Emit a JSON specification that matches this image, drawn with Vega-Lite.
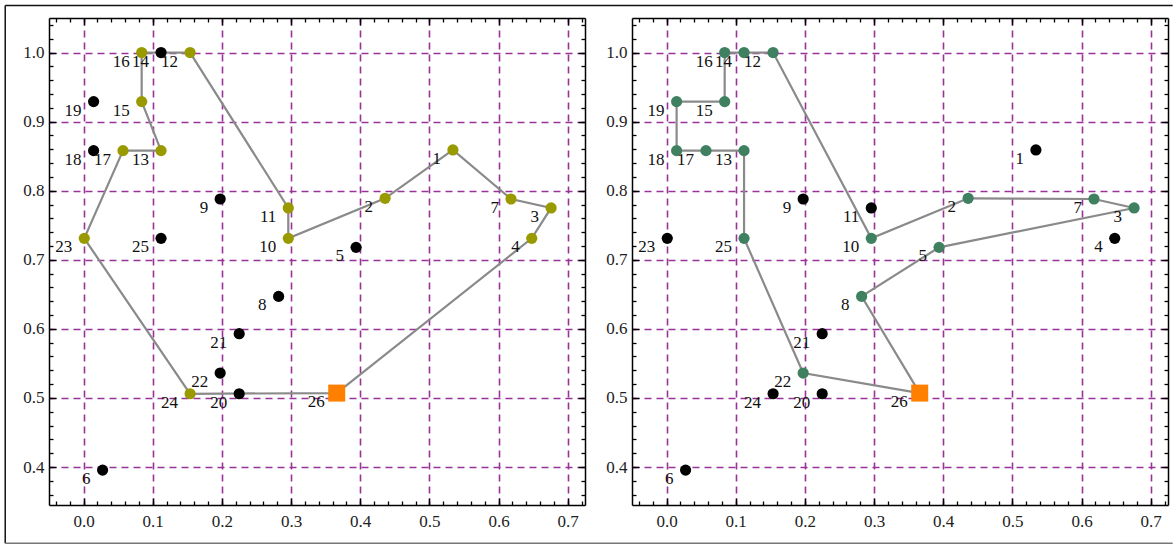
{
  "$schema": "https://vega.github.io/schema/vega-lite/v6.json",
  "background": "white",
  "padding": {"left": 4, "top": 4, "right": 0, "bottom": 0},
  "bounds": "flush",
  "spacing": 47,
  "config": {
    "view": {"stroke": null},
    "axis": {
      "domainColor": "#000000",
      "domainWidth": 1.5,
      "tickColor": "#000000",
      "tickWidth": 1.3,
      "labelFont": "Liberation Serif",
      "labelFontSize": 17,
      "labelColor": "#222222",
      "labelFlush": false,
      "labelOverlap": false
    }
  },
  "datasets": {
    "pts": [
      {"id": 1, "x": 0.534, "y": 0.859, "catL": "routeA", "catR": "node"},
      {"id": 2, "x": 0.436, "y": 0.789, "catL": "routeA", "catR": "routeB"},
      {"id": 3, "x": 0.676, "y": 0.775, "catL": "routeA", "catR": "routeB"},
      {"id": 4, "x": 0.648, "y": 0.731, "catL": "routeA", "catR": "node"},
      {"id": 5, "x": 0.394, "y": 0.718, "catL": "node", "catR": "routeB"},
      {"id": 6, "x": 0.0275, "y": 0.3955, "catL": "node", "catR": "node"},
      {"id": 7, "x": 0.618, "y": 0.788, "catL": "routeA", "catR": "routeB"},
      {"id": 8, "x": 0.282, "y": 0.647, "catL": "node", "catR": "routeB"},
      {"id": 9, "x": 0.1975, "y": 0.788, "catL": "node", "catR": "node"},
      {"id": 10, "x": 0.296, "y": 0.731, "catL": "routeA", "catR": "routeB"},
      {"id": 11, "x": 0.296, "y": 0.775, "catL": "routeA", "catR": "node"},
      {"id": 12, "x": 0.154, "y": 1.0, "catL": "routeA", "catR": "routeB"},
      {"id": 13, "x": 0.112, "y": 0.858, "catL": "routeA", "catR": "routeB"},
      {"id": 14, "x": 0.112, "y": 1.0, "catL": "node", "catR": "routeB"},
      {"id": 15, "x": 0.084, "y": 0.929, "catL": "routeA", "catR": "routeB"},
      {"id": 16, "x": 0.084, "y": 1.0, "catL": "routeA", "catR": "routeB"},
      {"id": 17, "x": 0.057, "y": 0.858, "catL": "routeA", "catR": "routeB"},
      {"id": 18, "x": 0.0145, "y": 0.858, "catL": "node", "catR": "routeB"},
      {"id": 19, "x": 0.0145, "y": 0.929, "catL": "node", "catR": "routeB"},
      {"id": 20, "x": 0.225, "y": 0.506, "catL": "node", "catR": "node"},
      {"id": 21, "x": 0.225, "y": 0.593, "catL": "node", "catR": "node"},
      {"id": 22, "x": 0.1975, "y": 0.536, "catL": "node", "catR": "routeB"},
      {"id": 23, "x": 0.001, "y": 0.731, "catL": "routeA", "catR": "node"},
      {"id": 24, "x": 0.154, "y": 0.506, "catL": "routeA", "catR": "node"},
      {"id": 25, "x": 0.112, "y": 0.731, "catL": "node", "catR": "routeB"},
      {"id": 26, "x": 0.366, "y": 0.507, "catL": "depot", "catR": "depot"}
    ],
    "pathL": [
      {"s": 1, "id": 26}, {"s": 2, "id": 4}, {"s": 3, "id": 3}, {"s": 4, "id": 7},
      {"s": 5, "id": 1}, {"s": 6, "id": 2}, {"s": 7, "id": 10}, {"s": 8, "id": 11},
      {"s": 9, "id": 12}, {"s": 10, "id": 16}, {"s": 11, "id": 15}, {"s": 12, "id": 13},
      {"s": 13, "id": 17}, {"s": 14, "id": 23}, {"s": 15, "id": 24}, {"s": 16, "id": 26}
    ],
    "pathR": [
      {"s": 1, "id": 26}, {"s": 2, "id": 22}, {"s": 3, "id": 25}, {"s": 4, "id": 13},
      {"s": 5, "id": 17}, {"s": 6, "id": 18}, {"s": 7, "id": 19}, {"s": 8, "id": 15},
      {"s": 9, "id": 16}, {"s": 10, "id": 14}, {"s": 11, "id": 12}, {"s": 12, "id": 10},
      {"s": 13, "id": 2}, {"s": 14, "id": 7}, {"s": 15, "id": 3}, {"s": 16, "id": 5},
      {"s": 17, "id": 8}, {"s": 18, "id": 26}
    ]
  },
  "hconcat": [
    {
      "width": 536,
      "height": 487,
      "resolve": {"axis": {"x": "independent", "y": "independent"}},
      "layer": [
        {
          "data": {"values": [{}]},
          "mark": {"type": "rule", "color": "#111111", "strokeWidth": 1.5, "strokeCap": "butt"},
          "encoding": {
            "x": {"datum": -0.1133, "type": "quantitative", "scale": {"domain": [-0.05, 0.725], "nice": false, "zero": false}, "axis": null},
            "x2": {"datum": 1.5747},
            "y": {"datum": 1.0682, "type": "quantitative", "scale": {"domain": [0.345, 1.05], "nice": false, "zero": false}, "axis": null}
          }
        },
        {
          "data": {"values": [{}]},
          "mark": {"type": "rule", "color": "#111111", "strokeWidth": 1.5, "strokeCap": "butt"},
          "encoding": {
            "x": {"datum": -0.1133, "type": "quantitative", "scale": {"domain": [-0.05, 0.725], "nice": false, "zero": false}, "axis": null},
            "y": {"datum": 0.2895, "type": "quantitative", "scale": {"domain": [0.345, 1.05], "nice": false, "zero": false}, "axis": null},
            "y2": {"datum": 1.0682}
          }
        },
        {
          "data": {"values": [{}]},
          "mark": {"type": "rule", "color": "#777777", "strokeWidth": 1.5, "strokeCap": "butt"},
          "encoding": {
            "x": {"datum": -0.1133, "type": "quantitative", "scale": {"domain": [-0.05, 0.725], "nice": false, "zero": false}, "axis": null},
            "x2": {"datum": 1.5747},
            "y": {"datum": 0.2895, "type": "quantitative", "scale": {"domain": [0.345, 1.05], "nice": false, "zero": false}, "axis": null}
          }
        },
        {
          "data": {"name": "pathL"},
          "transform": [{"lookup": "id", "from": {"data": {"name": "pts"}, "key": "id", "fields": ["x", "y"]}}],
          "mark": {"type": "line", "color": "#8a8a8a", "strokeWidth": 2.2},
          "encoding": {
            "x": {"field": "x", "type": "quantitative", "scale": {"domain": [-0.05, 0.725], "nice": false, "zero": false},
              "axis": {"orient": "bottom", "title": null, "values": [0, 0.1, 0.2, 0.3, 0.4, 0.5, 0.6, 0.7], "format": ".1f", "tickSize": -7, "labelPadding": 15, "grid": true, "gridColor": "#993399", "gridDash": [7, 5], "gridWidth": 1.6}},
            "y": {"field": "y", "type": "quantitative", "scale": {"domain": [0.345, 1.05], "nice": false, "zero": false},
              "axis": {"orient": "left", "title": null, "values": [0.4, 0.5, 0.6, 0.7, 0.8, 0.9, 1.0], "format": ".1f", "tickSize": -7, "labelPadding": 12, "grid": true, "gridColor": "#993399", "gridDash": [7, 5], "gridWidth": 1.6}},
            "order": {"field": "s", "type": "quantitative"}
          }
        },
        {
          "data": {"name": "pts"},
          "transform": [{"filter": "datum.id != 26"}],
          "mark": {"type": "circle", "size": 125, "opacity": 1},
          "encoding": {
            "x": {"field": "x", "type": "quantitative", "scale": {"domain": [-0.05, 0.725], "nice": false, "zero": false},
              "axis": {"orient": "bottom", "title": null, "values": [-0.04, -0.02, 0, 0.02, 0.04, 0.06, 0.08, 0.1, 0.12, 0.14, 0.16, 0.18, 0.2, 0.22, 0.24, 0.26, 0.28, 0.3, 0.32, 0.34, 0.36, 0.38, 0.4, 0.42, 0.44, 0.46, 0.48, 0.5, 0.52, 0.54, 0.56, 0.58, 0.6, 0.62, 0.64, 0.66, 0.68, 0.7, 0.72], "tickSize": -4, "labels": false, "grid": false, "domain": false}},
            "y": {"field": "y", "type": "quantitative", "scale": {"domain": [0.345, 1.05], "nice": false, "zero": false},
              "axis": {"orient": "left", "title": null, "values": [0.36, 0.38, 0.4, 0.42, 0.44, 0.46, 0.48, 0.5, 0.52, 0.54, 0.56, 0.58, 0.6, 0.62, 0.64, 0.66, 0.68, 0.7, 0.72, 0.74, 0.76, 0.78, 0.8, 0.82, 0.84, 0.86, 0.88, 0.9, 0.92, 0.94, 0.96, 0.98, 1.0, 1.02, 1.04], "tickSize": -4, "labels": false, "grid": false, "domain": false}},
            "color": {"field": "catL", "type": "nominal", "scale": {"domain": ["node", "routeA", "routeB"], "range": ["#000000", "#999900", "#3e8060"]}, "legend": null}
          }
        },
        {
          "data": {"name": "pts"},
          "transform": [{"filter": "datum.id == 26"}],
          "mark": {"type": "square", "size": 289, "color": "#ff8000", "opacity": 1},
          "encoding": {
            "x": {"field": "x", "type": "quantitative", "scale": {"domain": [-0.05, 0.725], "nice": false, "zero": false},
              "axis": {"orient": "top", "title": null, "values": [0, 0.1, 0.2, 0.3, 0.4, 0.5, 0.6, 0.7], "tickSize": -7, "labels": false, "grid": false}},
            "y": {"field": "y", "type": "quantitative", "scale": {"domain": [0.345, 1.05], "nice": false, "zero": false},
              "axis": {"orient": "right", "title": null, "values": [0.4, 0.5, 0.6, 0.7, 0.8, 0.9, 1.0], "tickSize": -7, "labels": false, "grid": false}}
          }
        },
        {
          "data": {"name": "pts"},
          "mark": {"type": "text", "align": "right", "baseline": "middle", "dx": -12, "dy": 9, "font": "Liberation Serif", "fontSize": 17, "color": "#111111"},
          "encoding": {
            "x": {"field": "x", "type": "quantitative", "scale": {"domain": [-0.05, 0.725], "nice": false, "zero": false},
              "axis": {"orient": "top", "title": null, "values": [-0.04, -0.02, 0, 0.02, 0.04, 0.06, 0.08, 0.1, 0.12, 0.14, 0.16, 0.18, 0.2, 0.22, 0.24, 0.26, 0.28, 0.3, 0.32, 0.34, 0.36, 0.38, 0.4, 0.42, 0.44, 0.46, 0.48, 0.5, 0.52, 0.54, 0.56, 0.58, 0.6, 0.62, 0.64, 0.66, 0.68, 0.7, 0.72], "tickSize": -4, "labels": false, "grid": false, "domain": false}},
            "y": {"field": "y", "type": "quantitative", "scale": {"domain": [0.345, 1.05], "nice": false, "zero": false},
              "axis": {"orient": "right", "title": null, "values": [0.36, 0.38, 0.4, 0.42, 0.44, 0.46, 0.48, 0.5, 0.52, 0.54, 0.56, 0.58, 0.6, 0.62, 0.64, 0.66, 0.68, 0.7, 0.72, 0.74, 0.76, 0.78, 0.8, 0.82, 0.84, 0.86, 0.88, 0.9, 0.92, 0.94, 0.96, 0.98, 1.0, 1.02, 1.04], "tickSize": -4, "labels": false, "grid": false, "domain": false}},
            "text": {"field": "id", "type": "nominal"}
          }
        }
      ]
    },
    {
      "width": 536,
      "height": 487,
      "resolve": {"axis": {"x": "independent", "y": "independent"}},
      "layer": [
        {
          "data": {"name": "pathR"},
          "transform": [{"lookup": "id", "from": {"data": {"name": "pts"}, "key": "id", "fields": ["x", "y"]}}],
          "mark": {"type": "line", "color": "#8a8a8a", "strokeWidth": 2.2},
          "encoding": {
            "x": {"field": "x", "type": "quantitative", "scale": {"domain": [-0.05, 0.725], "nice": false, "zero": false},
              "axis": {"orient": "bottom", "title": null, "values": [0, 0.1, 0.2, 0.3, 0.4, 0.5, 0.6, 0.7], "format": ".1f", "tickSize": -7, "labelPadding": 15, "grid": true, "gridColor": "#993399", "gridDash": [7, 5], "gridWidth": 1.6}},
            "y": {"field": "y", "type": "quantitative", "scale": {"domain": [0.345, 1.05], "nice": false, "zero": false},
              "axis": {"orient": "left", "title": null, "values": [0.4, 0.5, 0.6, 0.7, 0.8, 0.9, 1.0], "format": ".1f", "tickSize": -7, "labelPadding": 12, "grid": true, "gridColor": "#993399", "gridDash": [7, 5], "gridWidth": 1.6}},
            "order": {"field": "s", "type": "quantitative"}
          }
        },
        {
          "data": {"name": "pts"},
          "transform": [{"filter": "datum.id != 26"}],
          "mark": {"type": "circle", "size": 125, "opacity": 1},
          "encoding": {
            "x": {"field": "x", "type": "quantitative", "scale": {"domain": [-0.05, 0.725], "nice": false, "zero": false},
              "axis": {"orient": "bottom", "title": null, "values": [-0.04, -0.02, 0, 0.02, 0.04, 0.06, 0.08, 0.1, 0.12, 0.14, 0.16, 0.18, 0.2, 0.22, 0.24, 0.26, 0.28, 0.3, 0.32, 0.34, 0.36, 0.38, 0.4, 0.42, 0.44, 0.46, 0.48, 0.5, 0.52, 0.54, 0.56, 0.58, 0.6, 0.62, 0.64, 0.66, 0.68, 0.7, 0.72], "tickSize": -4, "labels": false, "grid": false, "domain": false}},
            "y": {"field": "y", "type": "quantitative", "scale": {"domain": [0.345, 1.05], "nice": false, "zero": false},
              "axis": {"orient": "left", "title": null, "values": [0.36, 0.38, 0.4, 0.42, 0.44, 0.46, 0.48, 0.5, 0.52, 0.54, 0.56, 0.58, 0.6, 0.62, 0.64, 0.66, 0.68, 0.7, 0.72, 0.74, 0.76, 0.78, 0.8, 0.82, 0.84, 0.86, 0.88, 0.9, 0.92, 0.94, 0.96, 0.98, 1.0, 1.02, 1.04], "tickSize": -4, "labels": false, "grid": false, "domain": false}},
            "color": {"field": "catR", "type": "nominal", "scale": {"domain": ["node", "routeA", "routeB"], "range": ["#000000", "#999900", "#3e8060"]}, "legend": null}
          }
        },
        {
          "data": {"name": "pts"},
          "transform": [{"filter": "datum.id == 26"}],
          "mark": {"type": "square", "size": 289, "color": "#ff8000", "opacity": 1},
          "encoding": {
            "x": {"field": "x", "type": "quantitative", "scale": {"domain": [-0.05, 0.725], "nice": false, "zero": false},
              "axis": {"orient": "top", "title": null, "values": [0, 0.1, 0.2, 0.3, 0.4, 0.5, 0.6, 0.7], "tickSize": -7, "labels": false, "grid": false}},
            "y": {"field": "y", "type": "quantitative", "scale": {"domain": [0.345, 1.05], "nice": false, "zero": false},
              "axis": {"orient": "right", "title": null, "values": [0.4, 0.5, 0.6, 0.7, 0.8, 0.9, 1.0], "tickSize": -7, "labels": false, "grid": false}}
          }
        },
        {
          "data": {"name": "pts"},
          "mark": {"type": "text", "align": "right", "baseline": "middle", "dx": -12, "dy": 9, "font": "Liberation Serif", "fontSize": 17, "color": "#111111"},
          "encoding": {
            "x": {"field": "x", "type": "quantitative", "scale": {"domain": [-0.05, 0.725], "nice": false, "zero": false},
              "axis": {"orient": "top", "title": null, "values": [-0.04, -0.02, 0, 0.02, 0.04, 0.06, 0.08, 0.1, 0.12, 0.14, 0.16, 0.18, 0.2, 0.22, 0.24, 0.26, 0.28, 0.3, 0.32, 0.34, 0.36, 0.38, 0.4, 0.42, 0.44, 0.46, 0.48, 0.5, 0.52, 0.54, 0.56, 0.58, 0.6, 0.62, 0.64, 0.66, 0.68, 0.7, 0.72], "tickSize": -4, "labels": false, "grid": false, "domain": false}},
            "y": {"field": "y", "type": "quantitative", "scale": {"domain": [0.345, 1.05], "nice": false, "zero": false},
              "axis": {"orient": "right", "title": null, "values": [0.36, 0.38, 0.4, 0.42, 0.44, 0.46, 0.48, 0.5, 0.52, 0.54, 0.56, 0.58, 0.6, 0.62, 0.64, 0.66, 0.68, 0.7, 0.72, 0.74, 0.76, 0.78, 0.8, 0.82, 0.84, 0.86, 0.88, 0.9, 0.92, 0.94, 0.96, 0.98, 1.0, 1.02, 1.04], "tickSize": -4, "labels": false, "grid": false, "domain": false}},
            "text": {"field": "id", "type": "nominal"}
          }
        }
      ]
    }
  ]
}
